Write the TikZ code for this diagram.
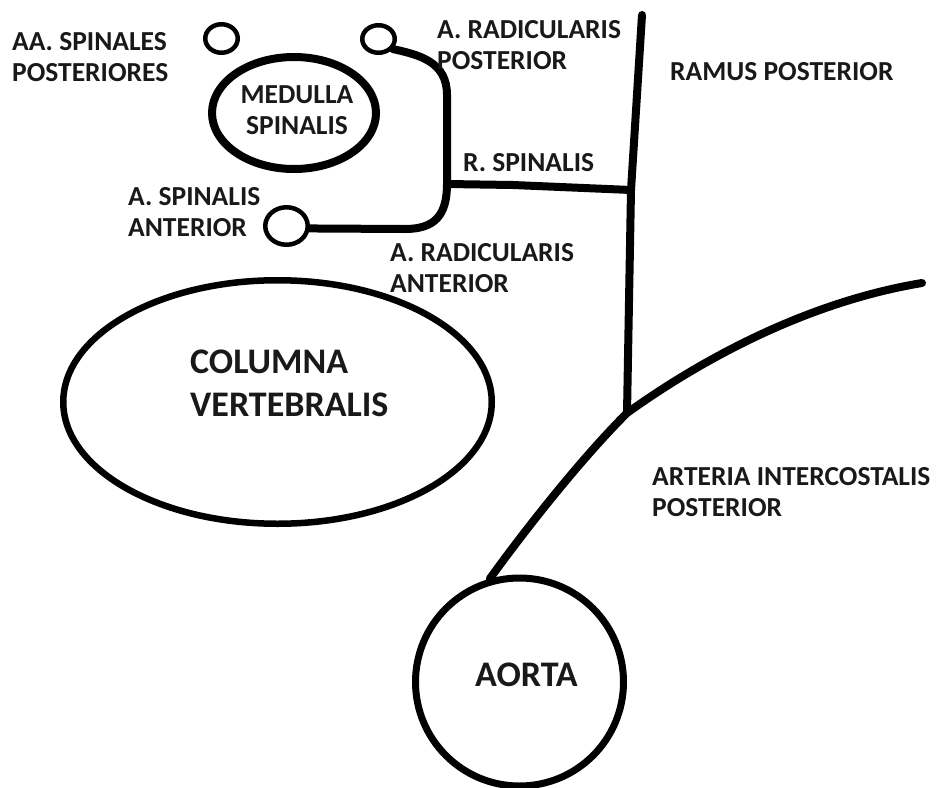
\documentclass[tikz,border=0pt]{standalone}
\usepackage{fontspec}
\setmainfont{Carlito}
\usetikzlibrary{shapes.geometric}
\begin{document}
\begin{tikzpicture}[x=1pt,y=-1pt,
  lbl/.style={font=\bfseries\fontsize{27.5}{31}\selectfont, align=left, anchor=north west, inner sep=0pt, text=black!90},
  biglbl/.style={font=\bfseries\fontsize{36}{43}\selectfont, align=left, anchor=north west, inner sep=0pt, text=black!90},
  vessel/.style={line width=8pt, line cap=round, line join=round},
  oval/.style={draw, ellipse, inner sep=0pt, line width=6.5pt},
  smallcirc/.style={draw, ellipse, inner sep=0pt, line width=4.5pt}
]
\useasboundingbox (0,0) rectangle (939,787);

% shapes
\node[oval, line width=8pt, minimum width=164pt, minimum height=112pt] (med) at (294,113) {};
\node[smallcirc, minimum width=32.5pt, minimum height=28.5pt] (spp) at (221.5,38.5) {};
\node[smallcirc, minimum width=32.5pt, minimum height=27.5pt] (rpc) at (378.5,39) {};
\node[smallcirc, minimum width=42.5pt, minimum height=37.5pt] (spa) at (286.5,226) {};
\node[oval, minimum width=428.5pt, minimum height=243.5pt] (col) at (277.5,402) {};
\node[oval, circle, line width=7pt, minimum size=208pt] (ao) at (519.5,682) {};

% junctions
\coordinate (rj) at (447,184);
\coordinate (vj) at (631,190);
\coordinate (top) at (642,15);
\coordinate (ij) at (627,413);
\coordinate (iend) at (922,283);

% vessels
\draw[vessel] (rpc.-35) .. controls (420,55) and (447,62) .. (447,95) -- (rj)
  .. controls (447,215) and (435,229) .. (405,229) -- (spa.-6);
\draw[vessel] (rj) -- (513,185) -- (vj);
\draw[vessel] (top) -- (vj) -- (ij);
\draw[vessel] (ao.106) .. controls (525,530) and (580,460) .. (ij)
  .. controls (680,375) and (790,305) .. (iend);

% labels
\node[lbl] (l1) at (12,32) {AA. SPINALES\\POSTERIORES};
\node[lbl, align=center, anchor=north] (l2) at (297,85) {MEDULLA\\SPINALIS};
\node[lbl] (l3) at (128,187) {A. SPINALIS\\ANTERIOR};
\node[lbl] (l4) at (437,20) {A. RADICULARIS\\POSTERIOR};
\node[lbl] (l5) at (670,62) {RAMUS POSTERIOR};
\node[lbl] (l6) at (463,153) {R. SPINALIS};
\node[lbl] (l7) at (390,243) {A. RADICULARIS\\ANTERIOR};
\node[biglbl] (l8) at (190,350) {COLUMNA\\VERTEBRALIS};
\node[lbl] (l9) at (652,467) {ARTERIA INTERCOSTALIS\\POSTERIOR};
\node[biglbl] (l10) at (475,663) {AORTA};
\end{tikzpicture}
\end{document}
